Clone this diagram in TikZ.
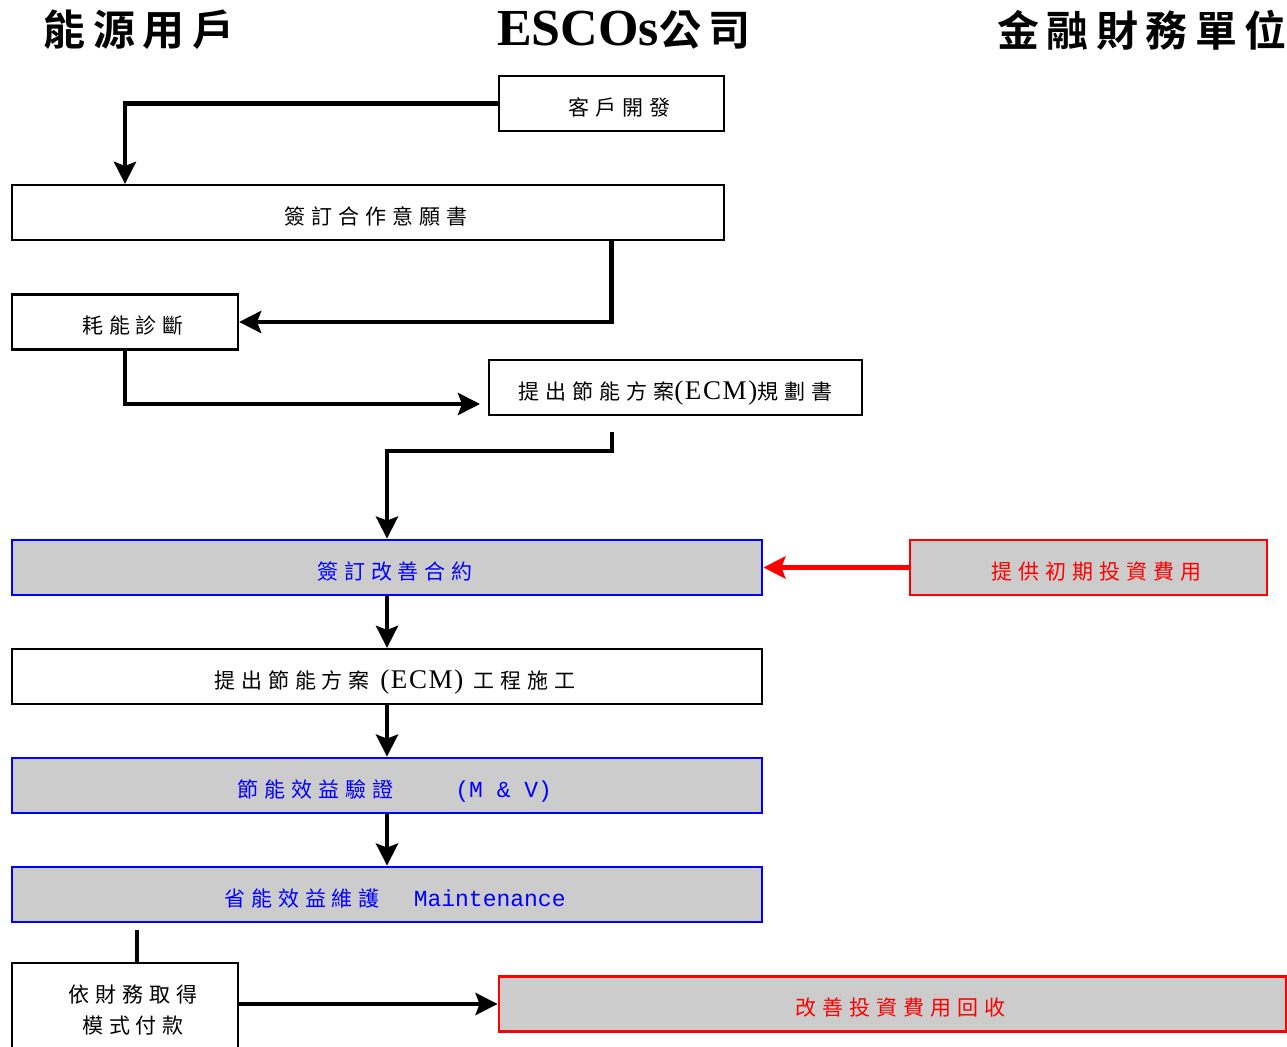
\documentclass[tikz,border=0pt]{standalone}
\usepackage{fontspec}
\setmainfont{Liberation Serif}
\newfontfamily\cjk[LetterSpace=28]{Noto Sans CJK TC}
\newfontfamily\cjkhead[LetterSpace=18]{Noto Sans CJK TC Bold}
\newfontfamily\monotxt{Liberation Mono}
\newfontfamily\latsp[LetterSpace=6]{Liberation Serif}
\newcommand\lat[1]{{\latsp\fontsize{13.5}{15}\selectfont #1}}
\newcommand\mono[1]{{\monotxt\fontsize{11.5}{14}\selectfont #1}}
\usetikzlibrary{arrows.meta}

\begin{document}
\begin{tikzpicture}[x=0.5pt,y=-0.5pt,
    box/.style={draw,line width=1.1pt,minimum height=27.5pt,inner sep=0pt,
      font=\cjk\fontsize{10.5}{15.5}\selectfont,text height=13pt,text depth=1pt,
      execute at begin node=\hspace*{8pt}},
    shade/.style={box,fill=black!20,line width=1.4pt},
    bluebox/.style={shade,draw=blue,text=blue},
    redbox/.style={shade,draw=red,text=red},
    line/.style={line width=2.2pt},
    flow/.style={line,-{Stealth[length=11pt,width=11pt,inset=2pt]}},
    head/.style={font=\cjkhead\fontsize{21}{24}\selectfont}]
  \useasboundingbox (0,0) rectangle (1287,1047);
  % column titles
  \node[head] (user) at (139,30) {能源用戶};
  \node[head] (esco) at (624,30) {{\rmfamily\bfseries\fontsize{26}{28}\selectfont ESCOs}公司};
  \node[head] (fin) at (1142,30) {金融財務單位};
  % steps
  \node[box,minimum width=112.5pt] (kehu) at (611.5,103.5) {客戶開發};
  \node[box,minimum width=356pt] (yiyuan) at (368,212.5) {簽訂合作意願書};
  \node[box,minimum width=113pt] (zhenduan) at (125,322) {耗能診斷};
  \node[box,minimum width=186.5pt,execute at begin node=\hspace*{-8pt}] (guihua) at (675.5,387.5) {提出節能方案\lat{(ECM)}規劃書};
  \node[bluebox,minimum width=375pt] (hetong) at (387,567.5) {簽訂改善合約};
  \node[redbox,minimum width=178.5pt] (touzi) at (1088.5,567.5) {提供初期投資費用};
  \node[box,minimum width=375pt] (shigong) at (387,676.5) {提出節能方案\ \lat{(ECM)}\ 工程施工};
  \node[bluebox,minimum width=375pt] (yanzheng) at (387,785.5) {節能效益驗證\hspace{31pt}\mono{(M \& V)}};
  \node[bluebox,minimum width=375pt] (weihu) at (387,894.5) {省能效益維護\hspace{17pt}\mono{Maintenance}};
  \node[box,minimum width=113pt,minimum height=47pt,align=center,text height=,text depth=] (fukuan) at (125,1010) {依財務取得\\模式付款};
  \node[redbox,minimum width=393.5pt] (huishou) at (892.5,1004) {改善投資費用回收};
  % connectors
  \coordinate (g_in) at (480,404);
  \coordinate (g_out) at (612,432);
  \coordinate (w_out) at (137,930);
  \draw[flow] (kehu.west) -| (zhenduan |- yiyuan.north);
  \draw[flow] (kehu |- yiyuan.south) |- (zhenduan.east);
  \draw[flow] (zhenduan.south) |- (g_in);
  \draw[flow] (g_out) -- ++(0,19) -| (hetong.north);
  \draw[flow,red] (touzi.west) -- (hetong.east);
  \draw[flow] (hetong.south) -- (shigong.north);
  \draw[flow] (shigong.south) -- (yanzheng.north);
  \draw[flow] (yanzheng.south) -- (weihu.north);
  \draw[line] (w_out) -- (w_out |- fukuan.north);
  \draw[flow] (fukuan.east |- huishou.west) -- (huishou.west);
\end{tikzpicture}
\end{document}
